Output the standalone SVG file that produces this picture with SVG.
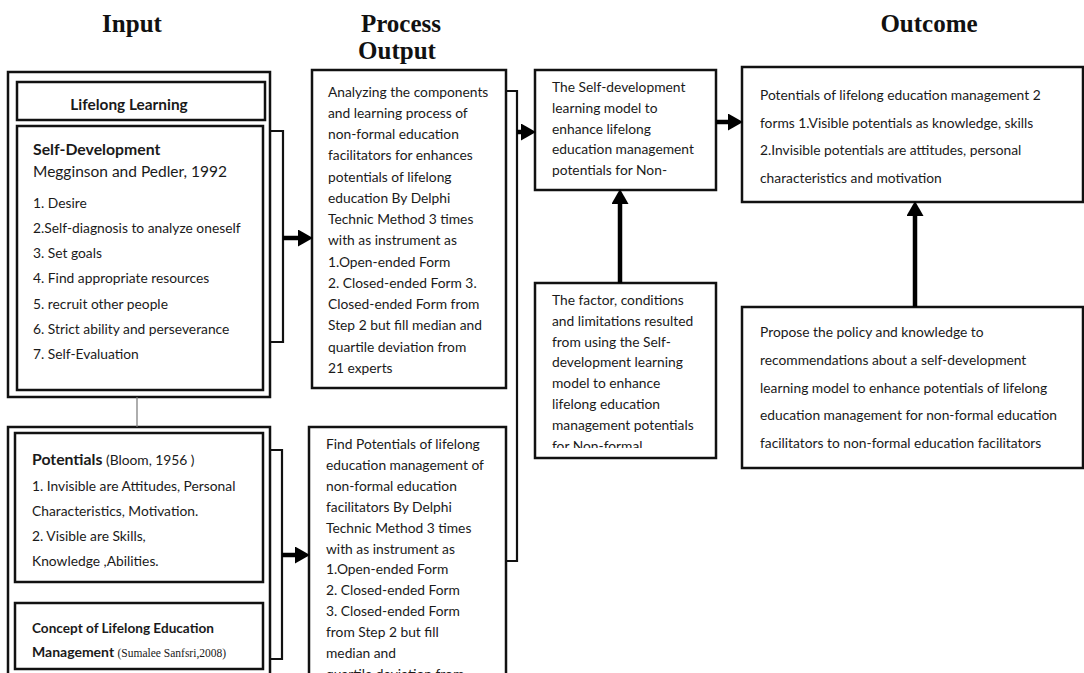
<svg xmlns="http://www.w3.org/2000/svg" width="1084" height="673" viewBox="0 0 1084 673">
  <style>
    .bg { fill: #ffffff; }
    .box { fill: #ffffff; stroke: #111111; stroke-width: 2.5; }
    .head { font-family: "Liberation Serif", "Times New Roman", serif; font-weight: bold; font-size: 25px; fill: #111111; text-anchor: middle; }
    .t { font-family: Lato, "Liberation Sans", sans-serif; font-size: 13.8px; fill: #1a1a1a; }
    .s { font-family: Lato, "Liberation Sans", sans-serif; font-size: 13.8px; fill: #1a1a1a; }
    .b { font-weight: bold; }
    .cite { font-family: "Liberation Serif", "Times New Roman", serif; font-size: 11.5px; font-weight: normal; }
    .brace { fill: none; stroke: #111111; stroke-width: 2.2; }
    .arrow { fill: none; stroke: #000000; stroke-width: 4.5; marker-end: url(#tip); }
    .thin { fill: none; stroke: #777777; stroke-width: 1.2; }
  </style>
  <defs>
    <marker id="tip" markerUnits="userSpaceOnUse" markerWidth="15" markerHeight="17" refX="7" refY="8.5" orient="auto">
      <path d="M0,0 L15,8.5 L0,17 z" fill="#000000"/>
    </marker>
    <clipPath id="clipLifelong"><rect x="18" y="83" width="246" height="30"/></clipPath>
    <clipPath id="clipFactor"><rect x="536" y="284" width="180" height="164"/></clipPath>
  </defs>

  <rect class="bg" x="0" y="0" width="1084" height="673"/>

  <!-- column headings -->
  <g id="headings">
    <text class="head" x="132" y="32">Input</text>
    <text class="head" x="401" y="32">Process</text>
    <text class="head" x="397" y="59">Output</text>
    <text class="head" x="929" y="32">Outcome</text>
  </g>

  <!-- input frame: lifelong learning / self-development -->
  <g id="input-self-development">
    <rect class="box" x="8" y="72" width="262" height="325"/>
    <rect class="box" x="17" y="82" width="248" height="38"/>
    <text class="t b" x="129" y="110" text-anchor="middle" clip-path="url(#clipLifelong)" style="font-size:15.4px">Lifelong Learning</text>
    <rect class="box" x="17" y="126" width="246" height="264"/>
    <text class="t b" x="33" y="155" style="font-size:15.8px">Self-Development</text>
    <text class="t" x="33" y="177" style="font-size:15.5px">Megginson and Pedler, 1992</text>
    <text class="s" x="33" y="207.5">1. Desire</text>
    <text class="s" x="33" y="232.8">2.Self-diagnosis to analyze oneself</text>
    <text class="s" x="33" y="258.1">3. Set goals</text>
    <text class="s" x="33" y="283.4">4. Find appropriate resources</text>
    <text class="s" x="33" y="308.7">5. recruit other people</text>
    <text class="s" x="33" y="334">6. Strict ability and perseverance</text>
    <text class="s" x="33" y="359.3">7. Self-Evaluation</text>
  </g>

  <!-- input frame: potentials / lifelong education management -->
  <g id="input-potentials">
    <rect class="box" x="8" y="427" width="262" height="260"/>
    <rect class="box" x="15" y="433" width="248" height="149"/>
    <text class="t" x="32" y="465"><tspan class="b" style="font-size:15.8px">Potentials</tspan> (Bloom, 1956 )</text>
    <text class="s" x="32" y="490.5">1. Invisible are Attitudes, Personal</text>
    <text class="s" x="32" y="515.5">Characteristics, Motivation.</text>
    <text class="s" x="32" y="540.8">2. Visible are Skills,</text>
    <text class="s" x="32" y="566">Knowledge ,Abilities.</text>
    <rect class="box" x="15" y="603" width="248" height="66"/>
    <text class="s b" x="32" y="633.3" style="font-size:13.6px">Concept of Lifelong Education</text>
    <text class="s b" x="32" y="656.7" style="font-size:14px">Management <tspan class="cite">(Sumalee Sanfsri,2008)</tspan></text>
  </g>

  <!-- process: component analysis -->
  <g id="process-components">
    <rect class="box" x="312" y="70" width="194" height="318"/>
    <text class="t" x="328" y="96.7">Analyzing the components</text>
    <text class="t" x="328" y="117.9">and learning process of</text>
    <text class="t" x="328" y="139.2">non-formal education</text>
    <text class="t" x="328" y="160.4">facilitators for enhances</text>
    <text class="t" x="328" y="181.7">potentials of lifelong</text>
    <text class="t" x="328" y="202.9">education By Delphi</text>
    <text class="t" x="328" y="224.2">Technic Method 3 times</text>
    <text class="t" x="328" y="245.4">with as instrument as</text>
    <text class="t" x="328" y="266.7">1.Open-ended Form</text>
    <text class="t" x="328" y="287.9">2. Closed-ended Form  3.</text>
    <text class="t" x="328" y="309.2">Closed-ended Form  from</text>
    <text class="t" x="328" y="330.4">Step 2 but fill median and</text>
    <text class="t" x="328" y="351.7">quartile deviation from</text>
    <text class="t" x="328" y="372.9">21 experts</text>
  </g>

  <!-- process: potentials analysis -->
  <g id="process-potentials">
    <rect class="box" x="309" y="427" width="197" height="260"/>
    <text class="t" x="326" y="449">Find Potentials of lifelong</text>
    <text class="t" x="326" y="469.9">education management of</text>
    <text class="t" x="326" y="490.8">non-formal education</text>
    <text class="t" x="326" y="511.7">facilitators By Delphi</text>
    <text class="t" x="326" y="532.6">Technic Method 3 times</text>
    <text class="t" x="326" y="553.5">with as instrument as</text>
    <text class="t" x="326" y="574.4">1.Open-ended Form</text>
    <text class="t" x="326" y="595.3">2. Closed-ended Form</text>
    <text class="t" x="326" y="616.2">3. Closed-ended Form</text>
    <text class="t" x="326" y="637.1">from Step 2 but fill</text>
    <text class="t" x="326" y="658">median and</text>
    <text class="t" x="326" y="678.9">quartile deviation from</text>
  </g>

  <!-- output: learning model -->
  <g id="output-model">
    <rect class="box" x="535" y="70" width="181" height="120"/>
    <text class="t" x="552" y="91.7">The Self-development</text>
    <text class="t" x="552" y="112.6">learning model to</text>
    <text class="t" x="552" y="133.5">enhance lifelong</text>
    <text class="t" x="552" y="154.4">education management</text>
    <text class="t" x="552" y="175.3">potentials for Non-</text>
  </g>

  <!-- output: factors and conditions -->
  <g id="output-factors">
    <rect class="box" x="535" y="283" width="181" height="175"/>
    <g clip-path="url(#clipFactor)">
      <text class="t" x="552" y="305">The factor, conditions</text>
      <text class="t" x="552" y="325.8">and limitations resulted</text>
      <text class="t" x="552" y="346.6">from using the Self-</text>
      <text class="t" x="552" y="367.4">development learning</text>
      <text class="t" x="552" y="388.2">model to enhance</text>
      <text class="t" x="552" y="409">lifelong education</text>
      <text class="t" x="552" y="429.8">management potentials</text>
      <text class="t" x="552" y="450.6">for Non-formal</text>
    </g>
  </g>

  <!-- outcome: potentials -->
  <g id="outcome-potentials">
    <rect class="box" x="742" y="67" width="341" height="135"/>
    <text class="s" x="760" y="100">Potentials of lifelong education management 2</text>
    <text class="s" x="760" y="127.5">forms 1.Visible potentials as knowledge, skills</text>
    <text class="s" x="760" y="155">2.Invisible potentials are attitudes, personal</text>
    <text class="s" x="760" y="182.5">characteristics and motivation</text>
  </g>

  <!-- outcome: policy proposal -->
  <g id="outcome-policy">
    <rect class="box" x="742" y="307" width="341" height="161"/>
    <text class="s" x="760" y="337.3">Propose the policy and knowledge to</text>
    <text class="s" x="760" y="365">recommendations about a self-development</text>
    <text class="s" x="760" y="392.7">learning model to enhance potentials of lifelong</text>
    <text class="s" x="760" y="420.4">education management for non-formal education</text>
    <text class="s" x="760" y="448.1">facilitators to non-formal education facilitators</text>
  </g>

  <!-- connectors -->
  <g id="connectors">
    <line class="thin" x1="137" y1="397" x2="137" y2="427"/>
    <polyline class="brace" points="270,131 283,131 283,342 270,342"/>
    <polyline class="brace" points="270,450 282,450 282,659 270,659"/>
    <polyline class="brace" points="506,91 517,91 517,561 506,561"/>
    <line class="arrow" x1="283" y1="238" x2="305" y2="238"/>
    <line class="arrow" x1="282" y1="555" x2="302" y2="555"/>
    <line class="arrow" x1="517" y1="132" x2="528" y2="132"/>
    <line class="arrow" x1="716" y1="122" x2="735" y2="122"/>
    <line class="arrow" x1="620" y1="283" x2="620" y2="197"/>
    <line class="arrow" x1="915" y1="307" x2="915" y2="209"/>
  </g>
</svg>
